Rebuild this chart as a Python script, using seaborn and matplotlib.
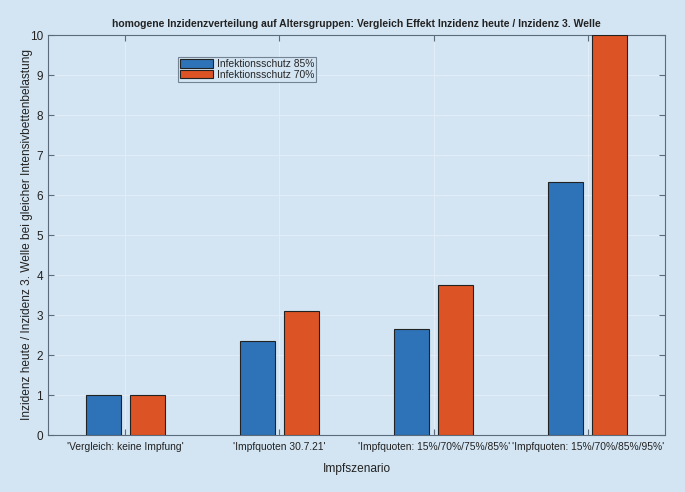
import matplotlib.pyplot as plt
import pandas as pd
import seaborn as sns

# values
scenarios = ["'Vergleich: keine Impfung'", "'Impfquoten 30.7.21'",
             "'Impfquoten: 15%/70%/75%/85%'", "'Impfquoten: 15%/70%/85%/95%'"]
schutz_85 = [1.0, 2.35, 2.64, 6.32]
schutz_70 = [1.0, 3.1, 3.75, 10.0]
series = ['Infektionsschutz 85%', 'Infektionsschutz 70%']

bg = '#d3e5f3'
edge = '#5b6b7b'


def main():
    df = pd.DataFrame({
        'Impfszenario': scenarios * 2,
        'Wert': schutz_85 + schutz_70,
        'Serie': [series[0]] * 4 + [series[1]] * 4,
    })

    sns.set_style('ticks')
    plt.rcParams['font.family'] = ['Liberation Sans', 'DejaVu Sans']

    fig = plt.figure(figsize=(6.85, 4.92), dpi=100, facecolor=bg)
    ax = fig.add_axes([48 / 685, 57 / 492, 617 / 685, 400 / 492])
    ax.set_facecolor(bg)

    sns.barplot(data=df, x='Impfszenario', y='Wert', hue='Serie',
                palette=['#2e73b8', '#dc5426'], width=0.57, gap=0.2,
                edgecolor='#222222', linewidth=0.8, saturation=1,
                ax=ax, zorder=3)

    ax.set_xlim(-0.5, 3.5)
    ax.set_ylim(0, 10)
    ax.set_yticks(range(0, 11))
    ax.grid(True, color='#e2edf7', linewidth=0.8, zorder=0)
    ax.tick_params(direction='in', length=4, colors=edge, labelcolor='#222222',
                   labelsize=8.5, top=True, right=True)
    ax.tick_params(axis='x', labelsize=7.4, pad=5)
    for sp in ax.spines.values():
        sp.set_color(edge)
        sp.set_linewidth(0.8)

    ax.set_xlabel('Impfszenario', fontsize=8.6, color='#222222', labelpad=8)
    ax.set_ylabel('Inzidenz heute / Inzidenz 3. Welle bei gleicher Intensivbettenbelastung',
                  fontsize=8.6, color='#222222')
    ax.yaxis.set_label_coords(-0.025, 0.5)
    ax.set_title('homogene Inzidenzverteilung auf Altersgruppen: Vergleich Effekt Inzidenz heute / Inzidenz 3. Welle',
                 fontsize=7.5, fontweight='bold', color='#222222', pad=6)

    leg = ax.legend(loc='upper left', bbox_to_anchor=(0.21, 0.945), fontsize=7.4,
                    frameon=True, fancybox=False, handlelength=3.2, handleheight=0.9,
                    borderpad=0.2, labelspacing=0.05, handletextpad=0.4,
                    borderaxespad=0)
    leg.get_frame().set_edgecolor(edge)
    leg.get_frame().set_facecolor(bg)
    leg.get_frame().set_linewidth(0.8)

    fig.savefig('out.png', dpi=100, facecolor=bg)


if __name__ == "__main__":
    main()
